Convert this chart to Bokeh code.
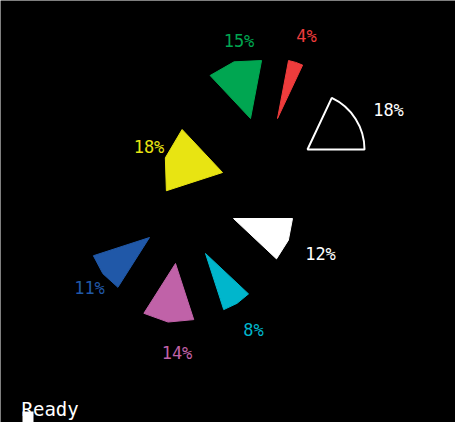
import numpy as np
from bokeh.plotting import figure
from bokeh.models import Range1d, ColumnDataSource, Label, BoxAnnotation
from bokeh.embed import file_html
from bokeh.resources import INLINE
from bokeh.core.properties import value

# ---- data ----
labels = ["18%", "4%", "15%", "18%", "11%", "14%", "8%", "12%"]
shares = [18, 4, 15, 18, 11, 14, 8, 12]
colors = ["#FFFFFF", "#EE3C3C", "#00A651", "#E8E412", "#2058A8", "#C062A8", "#00B6CC", "#FFFFFF"]
filled = [False, True, True, True, True, True, True, True]

# ---- layout (pixels) ----
W, H = 455, 422
cx, cy = 215, 217
explode_dx = [92, 62, 35, 7, -66, -40, -10, 18]
explode_dy = [56, 87, 87, 33, -32, -58, -48, -13]
radius = 59
arc_steps = 2          # coarse, low-resolution arc
# label offsets from each slice's apex
label_dx = [81, 29, -11.5, -73.5, -60, 1.5, 48, 87]
label_dy = [39, 81.5, 76.5, 25, -51.5, -90, -77, -36]

frac = np.array(shares, dtype=float) / sum(shares)
ends = np.cumsum(frac) * 2 * np.pi
starts = ends - frac * 2 * np.pi

ax = cx + np.array(explode_dx, dtype=float)
ay = cy + np.array(explode_dy, dtype=float)
lx = ax + np.array(label_dx)
ly = ay + np.array(label_dy) + 1

p = figure(width=W, height=H, x_range=Range1d(0, W), y_range=Range1d(0, H),
           output_backend="svg", toolbar_location=None, min_border=0)
p.axis.visible = False
p.grid.visible = False
p.outline_line_color = None
p.background_fill_color = "black"
p.border_fill_color = "black"

fill_idx = [i for i in range(len(shares)) if filled[i]]
open_idx = [i for i in range(len(shares)) if not filled[i]]

xs, ys = [], []
for i in fill_idx:
    a = np.linspace(starts[i], ends[i], arc_steps + 1)
    xs.append(np.concatenate([[ax[i]], ax[i] + radius * np.cos(a)]))
    ys.append(np.concatenate([[ay[i]], ay[i] + radius * np.sin(a)]))
src_f = ColumnDataSource(dict(xs=xs, ys=ys, c=[colors[i] for i in fill_idx]))
p.patches(xs="xs", ys="ys", fill_color="c", line_color="c", line_width=1, source=src_f)

src_o = ColumnDataSource(dict(x=ax[open_idx], y=ay[open_idx], s=starts[open_idx],
                              e=ends[open_idx], c=[colors[i] for i in open_idx]))
p.wedge(x="x", y="y", radius=radius - 2, start_angle="s", end_angle="e",
        fill_color=None, line_color="c", line_width=2, source=src_o)

src_t = ColumnDataSource(dict(x=lx, y=ly, t=labels, c=colors))
p.text(x="x", y="y", text="t", text_color="c", text_align="center",
       text_baseline="middle", text_font=value("DejaVu Sans Mono"),
       text_font_size="17px", source=src_t)

p.add_layout(Label(x=21, y=14, text="Ready", text_color="white",
                   text_font="DejaVu Sans Mono", text_font_size="19px",
                   text_baseline="alphabetic"))
p.add_layout(BoxAnnotation(left=22, right=33, bottom=0, top=11,
                           fill_color="white", fill_alpha=1, line_color=None))

html = file_html(p, INLINE)
html = html.replace("<body>", '<body style="margin:3px 0 0 0;">', 1)
open("out.html", "w").write(html)
